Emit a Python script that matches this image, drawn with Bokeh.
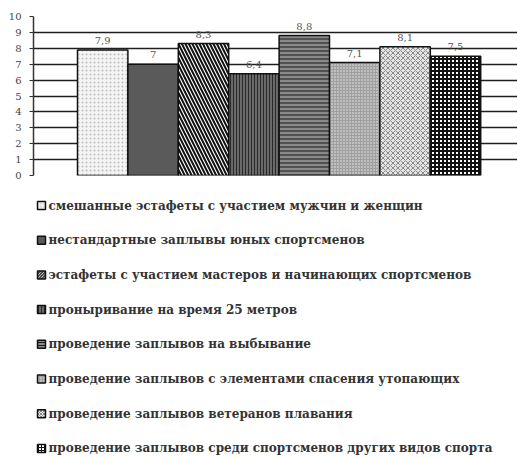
from bokeh.plotting import figure
from bokeh.layouts import column
from bokeh.models import Range1d, FixedTicker, ColumnDataSource, LabelSet
from bokeh.core.properties import value
from bokeh.embed import file_html
from bokeh.resources import INLINE

categories = [
    "смешанные эстафеты с участием мужчин и женщин",
    "нестандартные заплывы юных спортсменов",
    "эстафеты с участием мастеров и начинающих спортсменов",
    "проныривание на время 25 метров",
    "проведение заплывов на выбывание",
    "проведение заплывов с элементами спасения утопающих",
    "проведение заплывов ветеранов плавания",
    "проведение заплывов среди спортсменов других видов спорта",
]
values = [7.9, 7.0, 8.3, 6.4, 8.8, 7.1, 8.1, 7.5]
value_labels = ["7,9", "7", "8,3", "6,4", "8,8", "7,1", "8,1", "7,5"]
y_ticks = list(range(0, 11))

fills = ["#f4f4f4", "#5a5a5a", "#ffffff", "#6a6a6a", "#8a8a8a", "#a0a0a0", "#e4e4e4", "#ffffff"]
hatches = ["dot", " ", "left_diagonal_line", "vertical_line", "horizontal_line", "dot", "diagonal_cross", "cross"]
hatch_colors = ["#bdbdbd", "#444444", "#111111", "#2a2a2a", "#1a1a1a", "#eeeeee", "#8a8a8a", "#111111"]
hatch_scales = [4, 4, 7, 3, 4, 3, 5, 4]
hatch_weights = [1, 1, 2, 1, 1, 1, 1, 2]

n = len(values)
xs = [i + 1 for i in range(n)]

FRAME_W = 484
LEFT = 33

# ---- bar chart ----
p = figure(frame_width=FRAME_W, frame_height=159, output_backend="svg", toolbar_location=None,
           x_range=Range1d(-0.373, 9.23), y_range=Range1d(0, 10),
           min_border_left=LEFT, min_border_right=0, min_border_top=16, min_border_bottom=6)
p.outline_line_color = None
p.xaxis.visible = False
p.xgrid.visible = False
p.yaxis.ticker = FixedTicker(ticks=y_ticks)
p.ygrid[0].ticker = FixedTicker(ticks=y_ticks[:-1])
p.ygrid.grid_line_color = "#1e1e1e"
p.ygrid.grid_line_width = 1.5
p.yaxis.axis_line_color = "#333333"
p.yaxis.axis_line_width = 1.5
p.yaxis.major_tick_out = 4
p.yaxis.major_tick_in = 0
p.yaxis.minor_tick_line_color = None
p.yaxis.major_tick_line_color = "#333333"
p.yaxis.major_label_text_font = "DejaVu Serif"
p.yaxis.major_label_text_font_size = "10px"
p.yaxis.major_label_text_color = "#444444"
p.yaxis.major_label_standoff = 8

src = ColumnDataSource(dict(x=xs, top=values, fill=fills, hp=hatches, hc=hatch_colors,
                            hs=hatch_scales, hw=hatch_weights))
p.vbar(x="x", top="top", width=1.0, source=src,
       fill_color="fill", line_color="#111111", line_width=1.5,
       hatch_pattern="hp", hatch_color="hc", hatch_scale="hs", hatch_weight="hw")

lab_src = ColumnDataSource(dict(x=xs, y=values, t=value_labels))
p.add_layout(LabelSet(x="x", y="y", text="t", source=lab_src, y_offset=6,
                      text_align="center", text_baseline="bottom",
                      text_font=value("DejaVu Serif"), text_font_size="10px", text_color="#555555"))

# ---- legend (drawn as its own small figure, frame aligned with the chart) ----
row_pitch = 34.7
top_gap = 24
leg_h = 276
rows = list(range(n))
leg = figure(frame_width=FRAME_W, frame_height=leg_h, output_backend="svg", toolbar_location=None,
             x_range=Range1d(0, FRAME_W),
             y_range=Range1d((leg_h - top_gap) / row_pitch, -top_gap / row_pitch),
             min_border_left=LEFT, min_border_right=0, min_border_top=0, min_border_bottom=0,
             x_axis_location=None, y_axis_location=None)
leg.grid.visible = False
leg.outline_line_color = None
leg_src = ColumnDataSource(dict(y=rows, label=categories, fill=fills, hp=hatches, hc=hatch_colors,
                                hs=[3] * n))
leg.rect(x=41 - LEFT, y="y", width=8, height=8, width_units="screen", height_units="screen",
         source=leg_src, fill_color="fill", line_color="#111111", line_width=1.5,
         hatch_pattern="hp", hatch_color="hc", hatch_scale="hs", hatch_weight=1)
leg.text(x=48 - LEFT, y="y", text="label", source=leg_src, text_baseline="middle", text_align="left",
         text_font=value("DejaVu Serif"), text_font_size="12px", text_font_style="bold",
         text_color="#333333")

open("out.html", "w").write(file_html(column(p, leg), INLINE))
